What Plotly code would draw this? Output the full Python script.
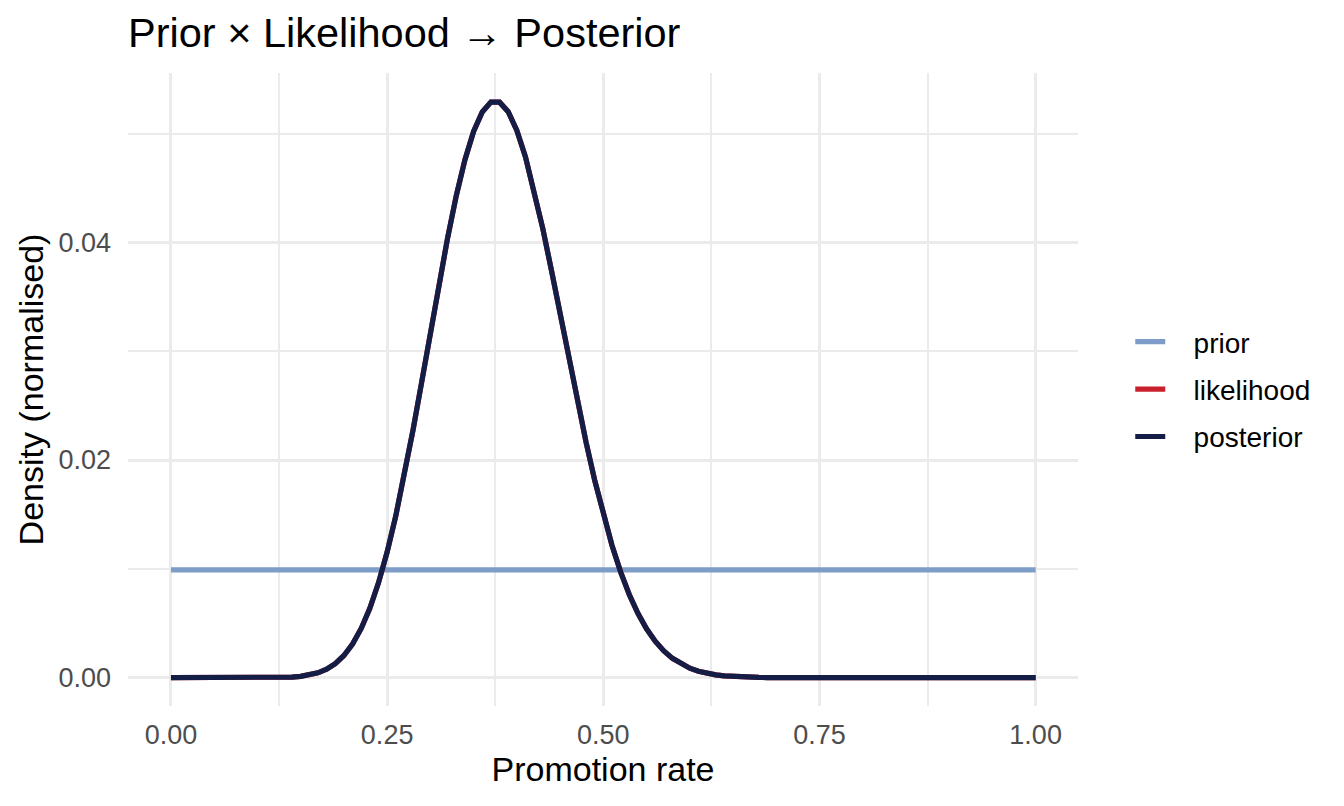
import numpy as np
import plotly.graph_objects as go

# grid of promotion rates (101 points, 0.00 .. 1.00)
rate = np.linspace(0, 1, 101)

# flat prior, normalised over the grid
prior = [0.0099] * 101

# posterior (peak ~0.053 near 0.375)
posterior = [
    0.0, 0.0, 0.0, 0.0, 0.0, 0.0, 0.0, 0.0, 0.0, 0.0,
    0.000001, 0.000004, 0.000010, 0.000026, 0.000059,
    0.000124, 0.000243, 0.000447, 0.000779, 0.001289,
    0.002040, 0.003096, 0.004524, 0.006383, 0.008715,
    0.011546, 0.014866, 0.018635, 0.022776, 0.027177,
    0.031699, 0.036181, 0.040435, 0.044296, 0.047593,
    0.050194, 0.051977, 0.052883, 0.052883, 0.052003,
    0.050289, 0.047846, 0.044795, 0.041272, 0.037436,
    0.033425, 0.029377, 0.025420, 0.021652, 0.018153,
    0.014983, 0.012167, 0.009726, 0.007645, 0.005911,
    0.004493, 0.003357, 0.002464, 0.001776, 0.001257,
    0.000872, 0.000594, 0.000396, 0.000258, 0.000165,
    0.000103, 0.000063, 0.000037, 0.000022, 0.000012,
    0.000007, 0.000004, 0.000002, 0.000001,
    0.0, 0.0, 0.0, 0.0, 0.0, 0.0, 0.0, 0.0, 0.0, 0.0,
    0.0, 0.0, 0.0, 0.0, 0.0, 0.0, 0.0, 0.0, 0.0, 0.0,
    0.0, 0.0, 0.0, 0.0, 0.0, 0.0, 0.0,
]
# with a flat prior the normalised likelihood sits right under the posterior
likelihood = list(posterior)

series = [('prior', prior, '#7D9DC8'),
          ('likelihood', likelihood, '#C8202D'),
          ('posterior', posterior, '#131D45')]

FONT = 'Liberation Sans, Arial, Helvetica, sans-serif'
PAD = '\u00a0\u00a0\u00a0'  # gap between legend key and label, as in ggplot

fig = go.Figure()
for name, vals, col in series:
    fig.add_trace(go.Scatter(x=rate, y=vals, mode='lines', name=PAD + name,
                             legendgroup=name,
                             line=dict(color=col, width=5.2)))

# page body has an 8px margin, so everything is nudged up/left by 8px
fig.update_layout(
    width=1344, height=806,
    margin=dict(l=120, r=274, t=65, b=108),
    plot_bgcolor='white', paper_bgcolor='white',
    font=dict(family=FONT, color='black'),
    title=dict(text='Prior × Likelihood → Posterior',
               x=120 / 1344, xref='container', xanchor='left',
               y=1 - 24 / 806, yref='container', yanchor='middle',
               font=dict(size=41.5, color='black')),
    legend=dict(x=1.055, xanchor='left', y=0.5, yanchor='middle',
                font=dict(size=28, color='black'),
                tracegroupgap=8, bgcolor='rgba(0,0,0,0)'),
)

fig.update_xaxes(
    range=[-0.0497, 1.049],
    tickvals=[0, 0.25, 0.5, 0.75, 1.0],
    ticktext=['0.00', '0.25', '0.50', '0.75', '1.00'],
    tickfont=dict(size=27, color='#4D4D4D'),
    ticks='', ticklabelstandoff=10,
    showgrid=True, gridcolor='#EBEBEB', gridwidth=3,
    minor=dict(tickvals=[0.125, 0.375, 0.625, 0.875], showgrid=True,
               gridcolor='#EBEBEB', gridwidth=1.6),
    zeroline=False, showline=False,
    title=dict(text='Promotion rate', font=dict(size=34, color='black'),
               standoff=8),
)
fig.update_yaxes(
    range=[-0.0026, 0.05556],
    tickvals=[0, 0.02, 0.04],
    ticktext=['0.00', '0.02', '0.04'],
    tickfont=dict(size=27, color='#4D4D4D'),
    ticks='', ticklabelstandoff=16,
    showgrid=True, gridcolor='#EBEBEB', gridwidth=3,
    minor=dict(tickvals=[0.01, 0.03, 0.05], showgrid=True,
               gridcolor='#EBEBEB', gridwidth=1.6),
    zeroline=False, showline=False,
    title=dict(text='Density (normalised)', font=dict(size=34, color='black'),
               standoff=4),
)

fig.write_html("out.html")
